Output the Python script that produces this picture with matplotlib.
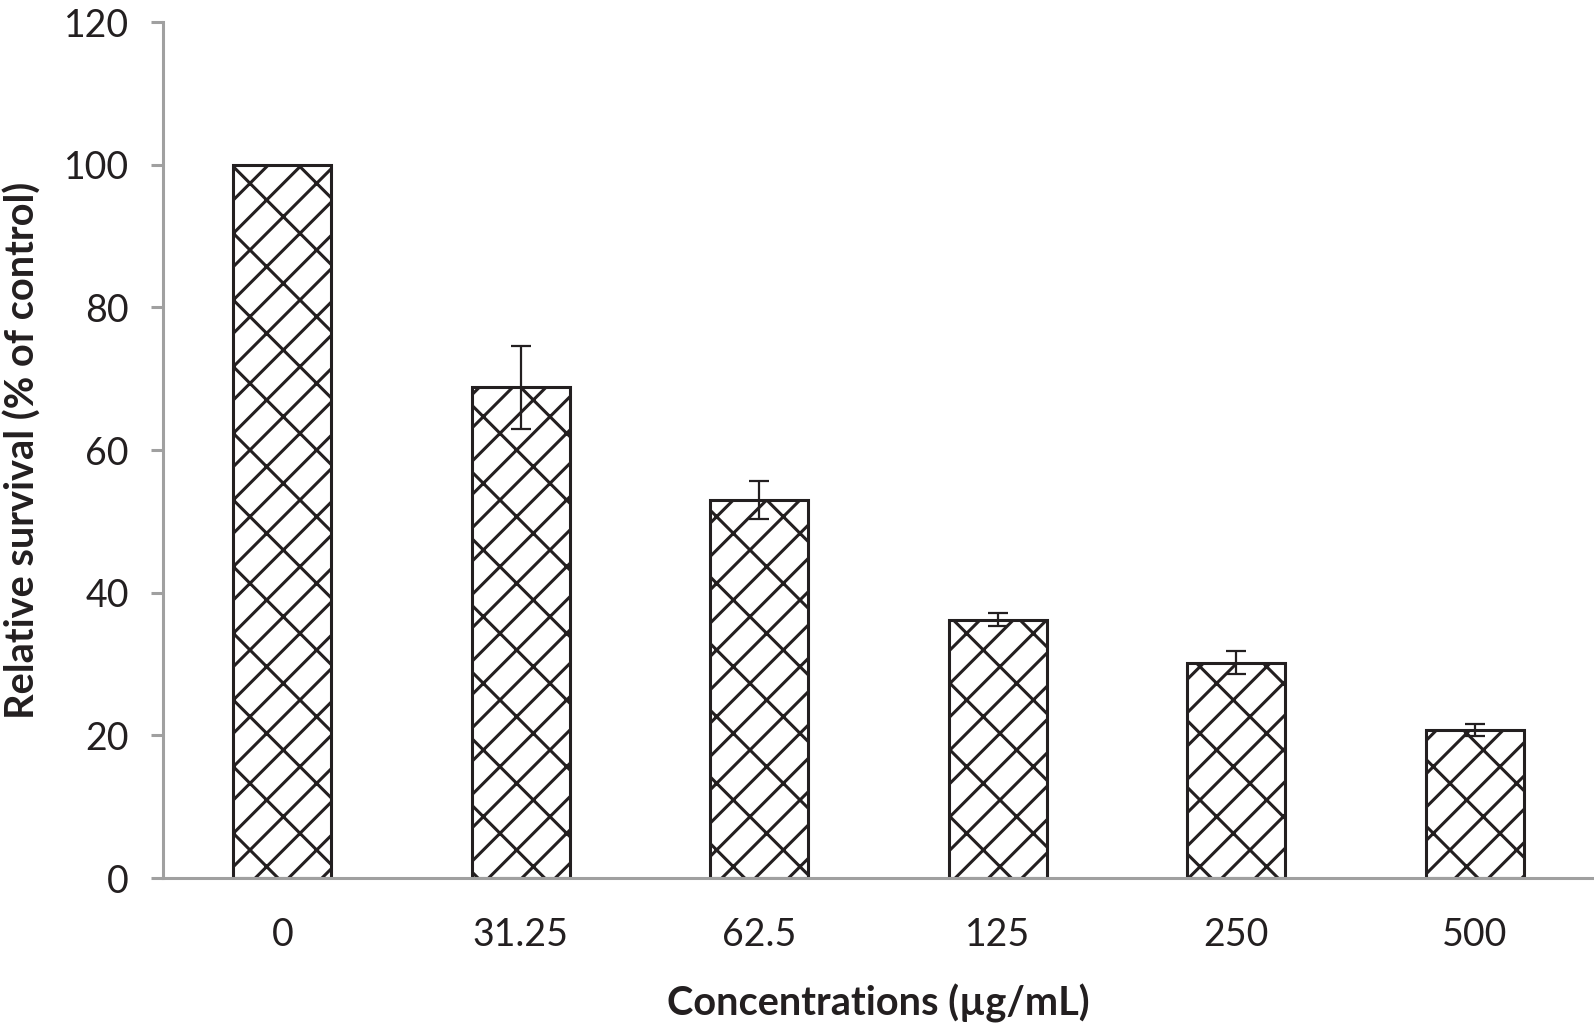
import matplotlib
matplotlib.use('Agg')
import matplotlib.pyplot as plt
import numpy as np

concentrations = ['0', '31.25', '62.5', '125', '250', '500']
survival = [100, 68.8, 53.0, 36.2, 30.2, 20.7]
errors = [0, 5.8, 2.7, 0.9, 1.6, 0.85]
y_ticks = [0, 20, 40, 60, 80, 100, 120]

plt.rcParams['font.family'] = ['Lato', 'DejaVu Sans']
plt.rcParams['hatch.linewidth'] = 1.1
plt.rcParams['hatch.color'] = '#231f20'

fig = plt.figure(figsize=(7.97, 5.125), dpi=200)
ax = fig.add_axes([0.1023, 0.1434, 0.8977, 0.8351])

x = np.arange(len(concentrations))
ax.bar(x, survival, width=0.41, color='white', edgecolor='#231f20',
       linewidth=1.1, hatch='//\\', zorder=2)
ax.errorbar(x[1:], survival[1:], yerr=errors[1:], fmt='none', ecolor='#231f20',
            elinewidth=0.8, capsize=3.5, capthick=0.8, zorder=3)

ax.set_xlim(-0.5, len(concentrations) - 0.5)
ax.set_ylim(0, 120)
ax.set_yticks(y_ticks)
ax.set_xticks(x)
ax.set_xticklabels(concentrations)

for side in ['top', 'right']:
    ax.spines[side].set_visible(False)
for side in ['left', 'bottom']:
    ax.spines[side].set_color('#a0a0a0')
    ax.spines[side].set_linewidth(1.1)

ax.tick_params(axis='y', direction='out', length=4.3, width=1.1, color='#a0a0a0',
               labelsize=13.5, labelcolor='#231f20', pad=8)
ax.tick_params(axis='x', length=0, labelsize=13.5, labelcolor='#231f20', pad=14)

ax.set_ylabel('Relative survival (% of control)', fontsize=14.3, fontweight='bold',
              color='#231f20', labelpad=8)
ax.set_xlabel('Concentrations (µg/mL)', fontsize=14.3, fontweight='bold',
              color='#231f20', labelpad=11)

fig.savefig('out.png', dpi=200)
